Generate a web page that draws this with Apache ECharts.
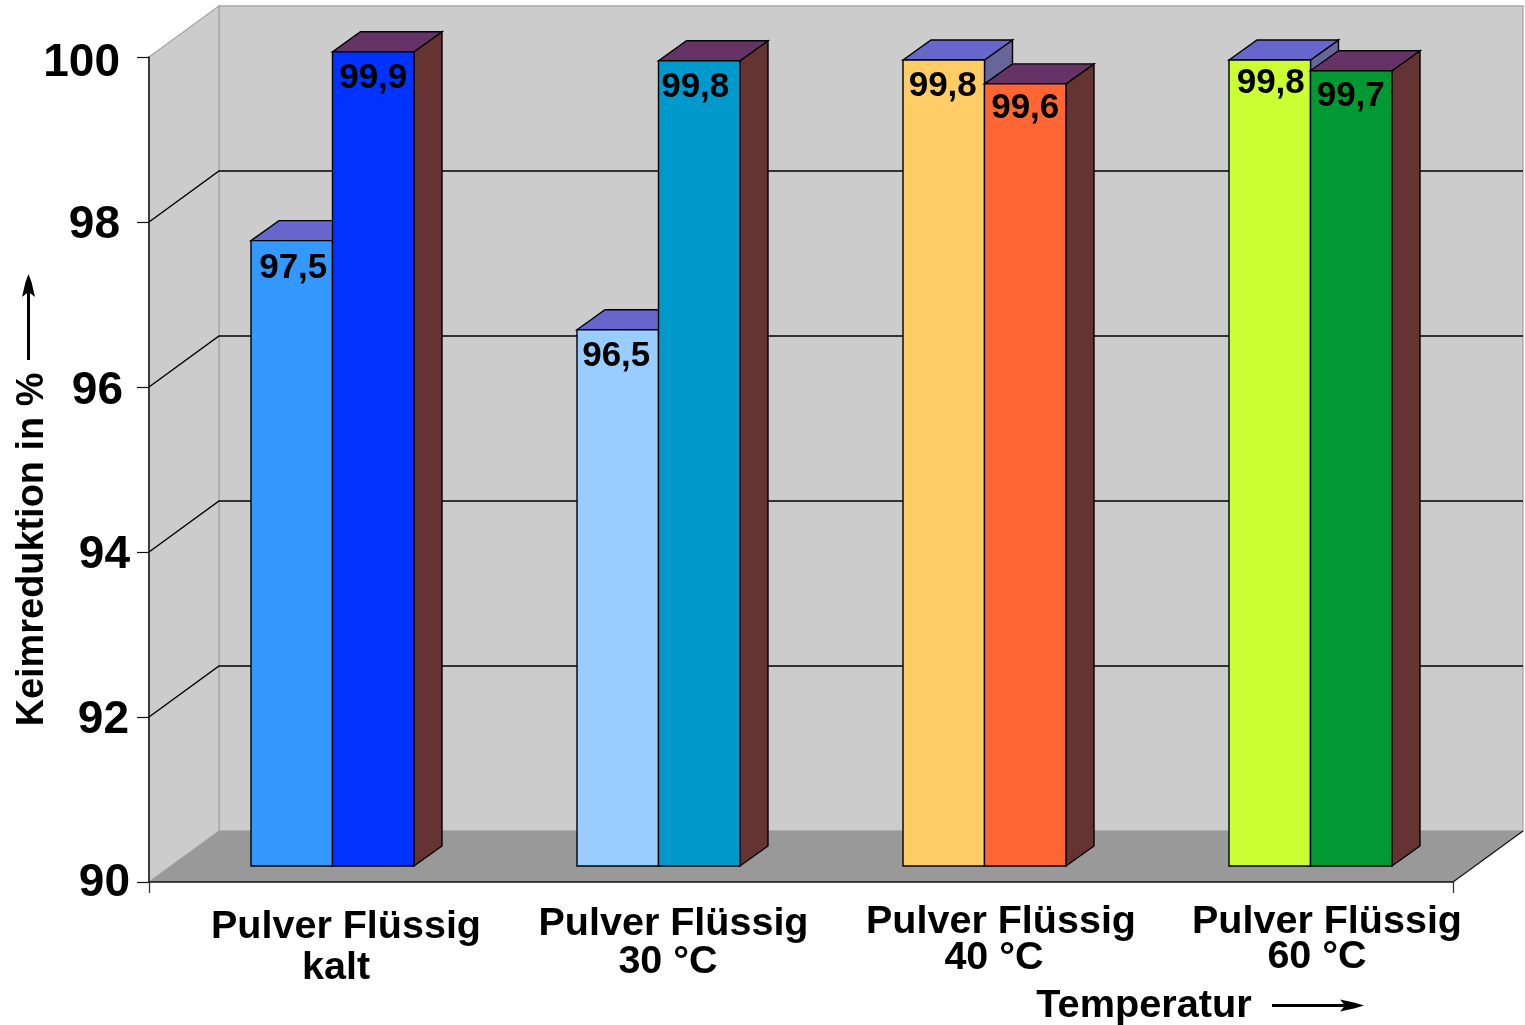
<!DOCTYPE html>
<html>
<head>
<meta charset="utf-8">
<title>Keimreduktion</title>
<style>html,body{margin:0;padding:0;background:#fff}#c{width:1525px;height:1025px}</style>
<script src="https://cdn.jsdelivr.net/npm/echarts@6/dist/echarts.min.js"></script>
</head>
<body>
<div id="c"></div>
<script>
// Data
var groupNames = ['kalt', '30 °C', '40 °C', '60 °C'];
var pairLabel = 'Pulver Flüssig';
var yTicks = [90, 92, 94, 96, 98, 100];
var pulverLabels = ['97,5', '96,5', '99,8', '99,8'];
var fluessigLabels = ['99,9', '99,8', '99,6', '99,7'];
// bar heights as drawn in the picture (the printed labels are rounded differently)
var pulverHeights = [97.58, 96.5, 99.77, 99.77];
var fluessigHeights = [99.87, 99.76, 99.48, 99.64];
var pulverColors = ['#3399ff', '#99ccff', '#ffcc66', '#ccff33'];
var fluessigColors = ['#0033ff', '#0099cc', '#ff6633', '#009933'];

var FONT = '"Liberation Sans", Arial, sans-serif';
var DEPTH = {wallX: 70, wallY: -51, barShiftX: 20.5, barShiftY: -16, barX: 28, barY: -20};
var LABEL_DROP = [28, 27, 26, 23];
var LABEL_DROP_R = [27, 27, 24, 26];
var LABEL_SHIFT = [1.5, -1.5, -1, 1];
var LABEL_SHIFT_R = [0, -4, 0, -0.5];

function renderWalls(params, api) {
  var band = api.size([1, 0])[0];
  var x0 = api.coord([0, 90])[0] - band / 2;
  var x1 = api.coord([3, 90])[0] + band / 2;
  var yB = api.coord([0, 90])[1];
  var yT = api.coord([0, 100])[1];
  var dx = DEPTH.wallX, dy = DEPTH.wallY;
  var kids = [
    {type: 'polygon', shape: {points: [[x0 + dx, yT + dy], [x1 + dx, yT + dy], [x1 + dx, yB + dy], [x0 + dx, yB + dy]]},
     style: {fill: '#cccccc', stroke: '#a6a6a6', lineWidth: 1.3}},
    {type: 'polygon', shape: {points: [[x0, yT], [x0 + dx, yT + dy], [x0 + dx, yB + dy], [x0, yB]]},
     style: {fill: '#cccccc', stroke: '#a6a6a6', lineWidth: 1.3}},
    {type: 'polygon', shape: {points: [[x0, yB], [x0 + dx, yB + dy], [x1 + dx, yB + dy], [x1, yB]]},
     style: {fill: '#999999', stroke: null}},
    {type: 'line', shape: {x1: x1, y1: yB, x2: x1 + dx, y2: yB + dy}, style: {stroke: '#111', lineWidth: 1.2}}
  ];
  yTicks.forEach(function (t) {
    if (t === 90 || t === 100) return;
    var y = api.coord([0, t])[1];
    kids.push({type: 'polyline', shape: {points: [[x0, y], [x0 + dx, y + dy], [x1 + dx, y + dy]]},
      style: {fill: null, stroke: '#000', lineWidth: 1.4}});
  });
  return {type: 'group', children: kids};
}

function renderBar(params, api) {
  var cat = api.value(0), slot = api.value(1), val = api.value(2);
  var band = api.size([1, 0])[0];
  var w = band / 4;
  var base = api.coord([cat, 90]);
  var top = api.coord([cat, val]);
  var xl = base[0] + DEPTH.barShiftX + (slot === 0 ? -w : 0);
  var xr = xl + w;
  var yb = base[1] + DEPTH.barShiftY;
  var yt = top[1] + DEPTH.barShiftY;
  var bx = DEPTH.barX, by = DEPTH.barY;
  var left = slot === 0;
  var drop = (left ? LABEL_DROP : LABEL_DROP_R)[cat];
  var shift = (left ? LABEL_SHIFT : LABEL_SHIFT_R)[cat];
  var text = (left ? pulverLabels : fluessigLabels)[cat];
  var color = (left ? pulverColors : fluessigColors)[cat];
  function st(fill) { return {fill: fill, stroke: '#000', lineWidth: 1.4}; }
  return {type: 'group', children: [
    {type: 'polygon', shape: {points: [[xr, yt], [xr + bx, yt + by], [xr + bx, yb + by], [xr, yb]]}, style: st(left ? '#666699' : '#663333')},
    {type: 'polygon', shape: {points: [[xl, yt], [xl + bx, yt + by], [xr + bx, yt + by], [xr, yt]]}, style: st(left ? '#6666cc' : '#663366')},
    {type: 'rect', shape: {x: xl, y: yt, width: w, height: yb - yt}, style: st(color)},
    {type: 'text', x: (xl + xr) / 2 + shift, y: yt + drop,
     style: {text: text, fill: '#000', font: 'bold 35px ' + FONT, textAlign: 'center', textVerticalAlign: 'middle'}}
  ]};
}

var barData = [];
groupNames.forEach(function (g, i) {
  barData.push([i, 0, pulverHeights[i]]);
  barData.push([i, 1, fluessigHeights[i]]);
});

var xRich = {};
var padTopA = [14, 12, 9, 8], padLeftA = [68, 71, 74, 74];
var lineA = [40, 37, 36, 36], padLeftB = [48, 60, 60, 54], padTopB = [16, 10, 5, 3];
groupNames.forEach(function (g, i) {
  xRich['a' + i] = {fontFamily: FONT, fontSize: 39.5, fontWeight: 'bold', color: '#000', lineHeight: lineA[i], padding: [padTopA[i], 0, 0, padLeftA[i]]};
  xRich['b' + i] = {fontFamily: FONT, fontSize: 39.5, fontWeight: 'bold', color: '#000', lineHeight: 40, padding: [padTopB[i], 0, 0, padLeftB[i]]};
});

var yPad = {100: 10, 98: 10, 96: 7, 94: 0, 92: 1, 90: 0};
var yPadTop = {100: 12, 98: 7, 96: 8, 94: 7, 92: 6, 90: 2};
var yRich = {};
yTicks.forEach(function (t) {
  yRich['y' + t] = {fontFamily: FONT, fontSize: 46, fontWeight: 'bold', color: '#000', padding: [yPadTop[t], yPad[t], 0, 0]};
});

var option = {
  backgroundColor: '#ffffff',
  animation: false,
  grid: {left: 149, top: 57, width: 1304, height: 825, outerBoundsMode: 'none'},
  xAxis: {
    type: 'category',
    data: groupNames,
    z: 5,
    name: 'Temperatur',
    nameLocation: 'middle',
    nameGap: 104,
    nameMoveOverlap: false,
    nameTextStyle: {fontSize: 39.7, fontWeight: 'bold', fontFamily: FONT, color: '#000', padding: [0, 0, 0, 686]},
    axisLine: {show: true, lineStyle: {color: '#111', width: 1.5}},
    axisTick: {show: true, length: 11, interval: function (i) { return i === 0; }, lineStyle: {color: '#333', width: 1.3}},
    axisLabel: {
      interval: 0, margin: 18, hideOverlap: false,
      formatter: function (v, i) { return '{a' + i + '|' + pairLabel + '}\n{b' + i + '|' + v + '}'; },
      rich: xRich
    },
    splitLine: {show: false}
  },
  yAxis: {
    type: 'value',
    min: 90, max: 100, interval: 2,
    z: 5,
    name: 'Keimreduktion in %',
    nameLocation: 'middle',
    nameGap: 97,
    nameMoveOverlap: false,
    nameRotate: 90,
    nameTextStyle: {fontSize: 37.9, fontWeight: 'bold', fontFamily: FONT, color: '#000', padding: [0, 160, 0, 0]},
    axisLine: {show: true, lineStyle: {color: '#111', width: 1.5}},
    axisTick: {show: true, length: 12, lineStyle: {color: '#111', width: 1.2}},
    axisLabel: {margin: 19, formatter: function (v) { return '{y' + v + '|' + v + '}'; }, rich: yRich},
    splitLine: {show: false}
  },
  series: [
    {type: 'custom', name: 'Raum', silent: true, z: 1, clip: false, data: [[0, 90]], encode: {x: 0, y: 1}, renderItem: renderWalls},
    {type: 'custom', name: 'Keimreduktion', z: 2, clip: false, data: barData, encode: {x: 0, y: 2}, renderItem: renderBar}
  ],
  graphic: [
    {type: 'line', shape: {x1: 28.5, y1: 360, x2: 28.5, y2: 290}, style: {stroke: '#000', lineWidth: 3}},
    {type: 'polygon', shape: {points: [[28.5, 274], [31.5, 282], [35, 297], [28.5, 292], [22, 297], [25.5, 282]]}, style: {fill: '#000'}},
    {type: 'line', shape: {x1: 1272, y1: 1005.5, x2: 1350, y2: 1005.5}, style: {stroke: '#000', lineWidth: 3}},
    {type: 'polygon', shape: {points: [[1364, 1005.5], [1354, 1002.5], [1340, 999.5], [1345, 1005.5], [1340, 1011.5], [1354, 1008.5]]}, style: {fill: '#000'}}
  ]
};
echarts.init(document.getElementById('c'), null, {renderer: 'canvas'}).setOption(option);
</script>
</body>
</html>
